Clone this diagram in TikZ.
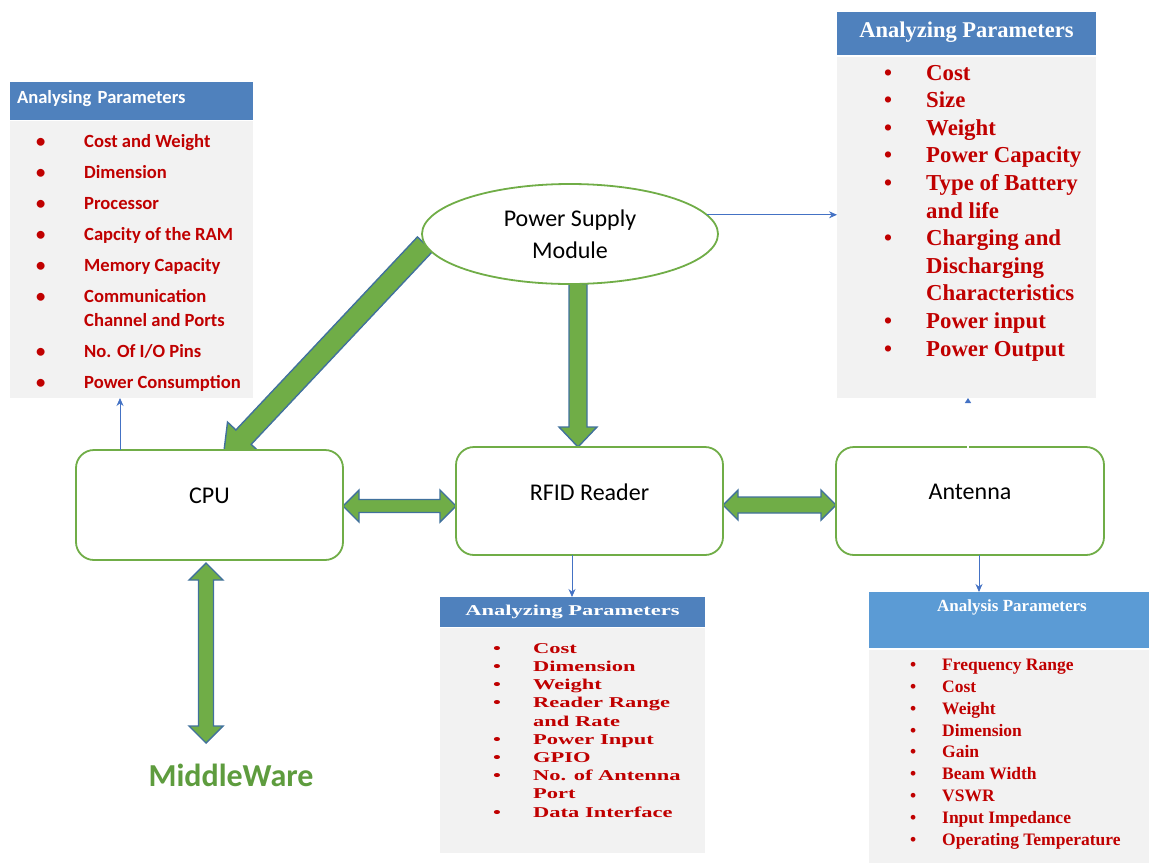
\documentclass[tikz,border=0pt]{standalone}
\usepackage{fontspec}
\setmainfont{Liberation Serif}
\newfontfamily\calib{Carlito}
\newfontfamily\widetimes[FakeStretch=1.5]{Liberation Serif}
\usetikzlibrary{shapes.geometric,calc,arrows.meta}

\definecolor{boxgreen}{HTML}{70AD47}
\definecolor{edgeblue}{HTML}{41719C}
\definecolor{linkblue}{HTML}{4472C4}
\definecolor{headblue}{HTML}{4F81BD}
\definecolor{headlight}{HTML}{5B9BD5}
\definecolor{panelgray}{HTML}{F2F2F2}
\definecolor{itemred}{HTML}{C00000}
\definecolor{mwgreen}{HTML}{5E9C3E}

\pgfdeclarelayer{under}
\pgfsetlayers{under,main}

% bullet column of a given width, and the matching indent for wrapped lines
\newcommand{\bul}[1]{\makebox[#1][l]{\textbullet}}
\newcommand{\ind}[1]{\hspace*{#1}}

% block arrow: #1 tail, #2 tip, #3 shaft half width, #4 head half width, #5 head length
\newcommand{\fatarrow}[5]{%
  \coordinate (fa-base) at ($(#2)!#5pt!(#1)$);
  \draw[fatstyle] ($(#1)!#3pt!90:(#2)$) -- ($(fa-base)!#3pt!90:(#2)$)
    -- ($(fa-base)!#4pt!90:(#2)$) -- (#2) -- ($(fa-base)!#4pt!-90:(#2)$)
    -- ($(fa-base)!#3pt!-90:(#2)$) -- ($(#1)!#3pt!-90:(#2)$) -- cycle;}

% two-headed block arrow, same arguments
\newcommand{\fatdblarrow}[5]{%
  \coordinate (fa-p) at ($(#1)!#5pt!(#2)$);
  \coordinate (fa-q) at ($(#2)!#5pt!(#1)$);
  \draw[fatstyle] (#1) -- ($(fa-p)!#4pt!90:(#2)$) -- ($(fa-p)!#3pt!90:(#2)$)
    -- ($(fa-q)!#3pt!90:(#2)$) -- ($(fa-q)!#4pt!90:(#2)$) -- (#2)
    -- ($(fa-q)!#4pt!-90:(#2)$) -- ($(fa-q)!#3pt!-90:(#2)$)
    -- ($(fa-p)!#3pt!-90:(#2)$) -- ($(fa-p)!#4pt!-90:(#2)$) -- cycle;}

\begin{document}
\begin{tikzpicture}[x=1pt,y=-1pt,
  panelbody/.style={fill=panelgray, draw=none, anchor=north west, inner sep=0pt, outer sep=0pt},
  panelhead/.style={fill=headblue, draw=none, anchor=north west, inner sep=0pt, outer sep=0pt, text=white},
  unit/.style={draw=boxgreen, line width=1.8pt, fill=white, rounded corners=18pt,
    minimum width=267pt, minimum height=108pt, outer sep=0pt, text depth=18pt,
    font=\calib\fontsize{24}{30}\selectfont},
  link/.style={draw=linkblue, line width=0.8pt, -{Stealth[length=8pt,width=7pt]}},
  fatstyle/.style={fill=boxgreen, draw=edgeblue, line width=1.4pt, line join=miter},
  items/.style={anchor=base west, inner sep=0pt, align=left, text=itemred},
]
\useasboundingbox (0,0) rectangle (1149,863);

% ---------- parameter panels ----------
% CPU parameters
\node[panelhead, minimum width=243pt, minimum height=38pt, text width=229pt,
      inner xsep=7pt, align=left, text depth=9pt,
      font=\calib\bfseries\fontsize{18.6}{20}\selectfont]
      (lph) at (10,82) {Analysing Parameters};
\node[panelbody, minimum width=243pt, minimum height=277pt] (lpb) at (10,121) {};
% (the base anchor of a multi-line node is the baseline of its last line)
\node[items, font=\calib\bfseries\fontsize{18.6}{31}\selectfont] (lpi) at (36,388) {%
  \bul{48pt}Cost and Weight\\
  \bul{48pt}Dimension\\
  \bul{48pt}Processor\\
  \bul{48pt}Capcity of the RAM\\
  \bul{48pt}Memory Capacity\\
  \bul{48pt}Communication\\[-7pt]
  \ind{48pt}Channel and Ports\\
  \bul{48pt}No. Of I/O Pins\\
  \bul{48pt}Power Consumption};

% power supply parameters
\node[panelhead, minimum width=259pt, minimum height=43pt, text depth=8pt,
      font=\bfseries\fontsize{22.5}{24}\selectfont]
      (trh) at (837,12) {Analyzing Parameters};
\node[panelbody, minimum width=259pt, minimum height=341pt] (trb) at (837,57) {};
\node[items, font=\bfseries\fontsize{22.8}{27.6}\selectfont] (tri) at (884,356) {%
  \bul{42pt}Cost\\
  \bul{42pt}Size\\
  \bul{42pt}Weight\\
  \bul{42pt}Power Capacity\\
  \bul{42pt}Type of Battery\\
  \ind{42pt}and life\\
  \bul{42pt}Charging and\\
  \ind{42pt}Discharging\\
  \ind{42pt}Characteristics\\
  \bul{42pt}Power input\\
  \bul{42pt}Power Output};

% reader parameters
\node[panelhead, minimum width=265pt, minimum height=30pt,
      font=\widetimes\bfseries\fontsize{15}{17}\selectfont]
      (bmh) at (440,597) {Analyzing Parameters};
\node[panelbody, minimum width=265pt, minimum height=225pt] (bmb) at (440,628) {};
\node[items, font=\widetimes\bfseries\fontsize{15}{18.2}\selectfont] (bmi) at (493,817) {%
  \bul{40pt}Cost\\
  \bul{40pt}Dimension\\
  \bul{40pt}Weight\\
  \bul{40pt}Reader Range\\
  \ind{40pt}and Rate\\
  \bul{40pt}Power Input\\
  \bul{40pt}GPIO\\
  \bul{40pt}No. of Antenna\\
  \ind{40pt}Port\\
  \bul{40pt}Data Interface};

% antenna parameters
\node[panelhead, fill=headlight, minimum width=280pt, minimum height=56pt] (brh) at (869,592) {};
\node[text=white, font=\bfseries\fontsize{17}{19}\selectfont] (brt) at (1012,607) {Analysis Parameters};
\node[panelbody, minimum width=280pt, minimum height=213pt] (brb) at (869,650) {};
\node[items, font=\bfseries\fontsize{17.5}{21.8}\selectfont] (bri) at (910,845) {%
  \bul{32pt}Frequency Range\\
  \bul{32pt}Cost\\
  \bul{32pt}Weight\\
  \bul{32pt}Dimension\\
  \bul{32pt}Gain\\
  \bul{32pt}Beam Width\\
  \bul{32pt}VSWR\\
  \bul{32pt}Input Impedance\\
  \bul{32pt}Operating Temperature};

% ---------- system blocks ----------
\node[ellipse, draw=boxgreen, line width=1.8pt, fill=white, minimum width=296pt,
      minimum height=100pt, inner sep=0pt, outer sep=0pt, align=center,
      font=\calib\fontsize{24}{32}\selectfont] (psu) at (570,234) {Power Supply\\Module};
\node[unit, minimum height=110pt] (cpu) at (209.5,505) {CPU};
\node[unit] (rfid) at (589.5,501) {RFID Reader};
\node[unit, minimum width=268pt] (ant) at (970,501) {Antenna};
\node[font=\calib\bfseries\fontsize{32}{36}\selectfont, text=mwgreen] (mw) at (231,775) {MiddleWare};

% ---------- power and data flow ----------
\coordinate (cpuhit) at ([xshift=13.5pt,yshift=-9pt]cpu.north);
\coordinate (psudown) at ([xshift=8pt]psu.south);
\coordinate (rfidin) at ([xshift=-11.5pt]rfid.north);
\coordinate (cr-a) at ([yshift=-1pt]cpu.east);
\coordinate (cr-b) at (rfid.west |- cr-a);
\coordinate (ra-a) at ([yshift=-4pt]rfid.east);
\coordinate (ra-b) at (ant.west |- ra-a);
\coordinate (cm-a) at ([xshift=-3.5pt,yshift=-3pt]cpu.south);
\coordinate (mwtop) at (206,743);
\begin{pgfonlayer}{under}
  \fatarrow{psu.184}{cpuhit}{10.5}{22}{30}
  \fatarrow{psudown}{rfidin}{9}{19}{20}
  \fatdblarrow{cr-a}{cr-b}{6.5}{16}{16}
  \fatdblarrow{ra-a}{ra-b}{8}{15}{15}
  \fatdblarrow{cm-a}{mwtop}{7.5}{17}{17}
\end{pgfonlayer}

% ---------- links to the parameter panels ----------
\coordinate (cpuup) at ([xshift=44pt]cpu.north west);
\draw[link] (cpuup) -- (cpuup |- lpb.south);
\draw[link] (psu.8) -- (psu.8 -| trb.west);
\coordinate (rfiddown) at ([xshift=-17.5pt]rfid.south);
\draw[link] (rfiddown) -- (rfiddown |- bmh.north);
\coordinate (antdown) at ([xshift=9pt]ant.south);
\draw[link] (antdown) -- (antdown |- brh.north);
\coordinate (antup) at ([xshift=-2pt,yshift=-1.5pt]ant.north);
\draw[draw=white, line width=2.5pt, -{Triangle[color=linkblue,length=5pt,width=6pt]}]
  (antup) -- (antup |- trb.south);
\end{tikzpicture}
\end{document}
